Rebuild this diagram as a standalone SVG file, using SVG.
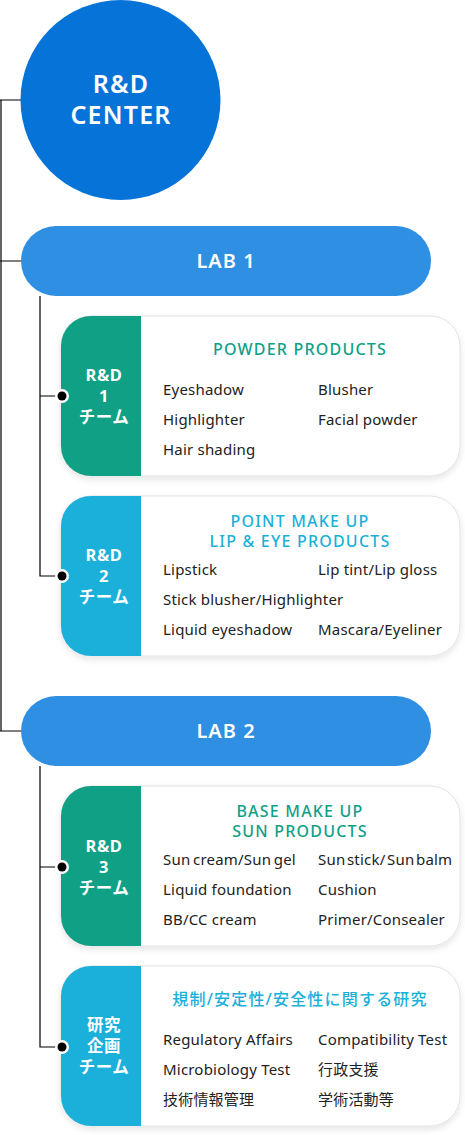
<svg xmlns="http://www.w3.org/2000/svg" width="465" height="1135" viewBox="0 0 465 1135">
<defs>
<style>
.ln{stroke:#000;stroke-width:1.2;fill:none}
.card{fill:#fff;stroke:#e2e2e2;stroke-width:1}
.head{font-family:"Noto Sans","Noto Sans CJK JP",sans-serif;font-weight:600;fill:#fff;text-anchor:middle}
.tag{font-family:"Noto Sans","Noto Sans CJK JP",sans-serif;font-weight:700;font-size:16.5px;letter-spacing:0.5px;fill:#fff;text-anchor:middle}
.ttl{font-family:"Noto Sans","Noto Sans CJK JP",sans-serif;font-weight:500;font-size:16px;letter-spacing:1.2px;text-anchor:middle}
.it{font-family:"Noto Sans","Noto Sans CJK JP",sans-serif;font-size:15px;letter-spacing:0.2px;fill:#222}
.g{fill:#10a085}
.b{fill:#1ab0da}
.pill{fill:#2e8fe3}
</style>
<filter id="sh" x="-10%" y="-10%" width="120%" height="130%">
<feDropShadow dx="0" dy="3" stdDeviation="3" flood-color="#000" flood-opacity="0.10"/>
</filter>
</defs>
<g id="connectors">
<path class="ln" d="M1 100V731M0 100H21M0 261H21M0 731H21"/>
<path class="ln" d="M40 296V576H62M40 396H62"/>
<path class="ln" d="M40 766V1047H62M40 867H62"/>
</g>
<g id="center">
<circle cx="120.5" cy="100" r="100" fill="#0673d8"/>
<text class="head" x="121" y="93" font-size="25" letter-spacing="1.2">R&amp;D</text>
<text class="head" x="121" y="124" font-size="25" letter-spacing="1.2">CENTER</text>
</g>
<g id="lab1">
<rect class="pill" x="21" y="226" width="410" height="70" rx="35"/>
<text class="head" x="226" y="268" font-size="20" font-weight="500" letter-spacing="1">LAB 1</text>
</g>
<g id="team1">
<rect class="card" x="61" y="316" width="399" height="160" rx="30" filter="url(#sh)"/>
<path class="g" d="M141 316H91a30 30 0 0 0-30 30V446a30 30 0 0 0 30 30H141Z"/>
<text class="tag" x="104" y="381">R&amp;D</text>
<text class="tag" x="104" y="402">1</text>
<text class="tag" x="104" y="423">チーム</text>
<text class="ttl" x="300" y="355" fill="#10a085">POWDER PRODUCTS</text>
<text class="it" x="163" y="395">Eyeshadow</text>
<text class="it" x="318" y="395">Blusher</text>
<text class="it" x="163" y="425">Highlighter</text>
<text class="it" x="318" y="425">Facial powder</text>
<text class="it" x="163" y="455">Hair shading</text>
<circle cx="62" cy="396" r="7" fill="#fff"/><circle cx="62" cy="396" r="4.5" fill="#000"/>
</g>
<g id="team2">
<rect class="card" x="61" y="496" width="399" height="160" rx="30" filter="url(#sh)"/>
<path class="b" d="M141 496H91a30 30 0 0 0-30 30V626a30 30 0 0 0 30 30H141Z"/>
<text class="tag" x="104" y="561">R&amp;D</text>
<text class="tag" x="104" y="582">2</text>
<text class="tag" x="104" y="603">チーム</text>
<text class="ttl" x="300" y="527" fill="#1ab0da">POINT MAKE UP</text>
<text class="ttl" x="300" y="547" fill="#1ab0da">LIP &amp; EYE PRODUCTS</text>
<text class="it" x="163" y="575">Lipstick</text>
<text class="it" x="318" y="575">Lip tint/Lip gloss</text>
<text class="it" x="163" y="605">Stick blusher/Highlighter</text>
<text class="it" x="163" y="635">Liquid eyeshadow</text>
<text class="it" x="318" y="635">Mascara/Eyeliner</text>
<circle cx="62" cy="576" r="7" fill="#fff"/><circle cx="62" cy="576" r="4.5" fill="#000"/>
</g>
<g id="lab2">
<rect class="pill" x="21" y="696" width="410" height="70" rx="35"/>
<text class="head" x="226" y="738" font-size="20" font-weight="500" letter-spacing="1">LAB 2</text>
</g>
<g id="team3">
<rect class="card" x="61" y="786" width="399" height="160" rx="30" filter="url(#sh)"/>
<path class="g" d="M141 786H91a30 30 0 0 0-30 30V916a30 30 0 0 0 30 30H141Z"/>
<text class="tag" x="104" y="852">R&amp;D</text>
<text class="tag" x="104" y="873">3</text>
<text class="tag" x="104" y="894">チーム</text>
<text class="ttl" x="300" y="817" fill="#10a085">BASE MAKE UP</text>
<text class="ttl" x="300" y="837" fill="#10a085">SUN PRODUCTS</text>
<text class="it" x="163" y="865" letter-spacing="0" word-spacing="-1.5">Sun cream/Sun gel</text>
<text class="it" x="318" y="865" letter-spacing="-0.2" word-spacing="-2.5">Sun stick/ Sun balm</text>
<text class="it" x="163" y="895">Liquid foundation</text>
<text class="it" x="318" y="895">Cushion</text>
<text class="it" x="163" y="925">BB/CC cream</text>
<text class="it" x="318" y="925">Primer/Consealer</text>
<circle cx="62" cy="867" r="7" fill="#fff"/><circle cx="62" cy="867" r="4.5" fill="#000"/>
</g>
<g id="team4">
<rect class="card" x="61" y="966" width="399" height="160" rx="30" filter="url(#sh)"/>
<path class="b" d="M141 966H91a30 30 0 0 0-30 30V1096a30 30 0 0 0 30 30H141Z"/>
<text class="tag" x="104" y="1031">研究</text>
<text class="tag" x="104" y="1052">企画</text>
<text class="tag" x="104" y="1073">チーム</text>
<text class="ttl" x="300" y="1005" fill="#1ab0da" font-size="15.5" letter-spacing="0.3">規制/安定性/安全性に関する研究</text>
<text class="it" x="163" y="1045">Regulatory Affairs</text>
<text class="it" x="318" y="1045">Compatibility Test</text>
<text class="it" x="163" y="1075">Microbiology Test</text>
<text class="it" x="318" y="1075">行政支援</text>
<text class="it" x="163" y="1105">技術情報管理</text>
<text class="it" x="318" y="1105">学術活動等</text>
<circle cx="62" cy="1047" r="7" fill="#fff"/><circle cx="62" cy="1047" r="4.5" fill="#000"/>
</g>
</svg>
